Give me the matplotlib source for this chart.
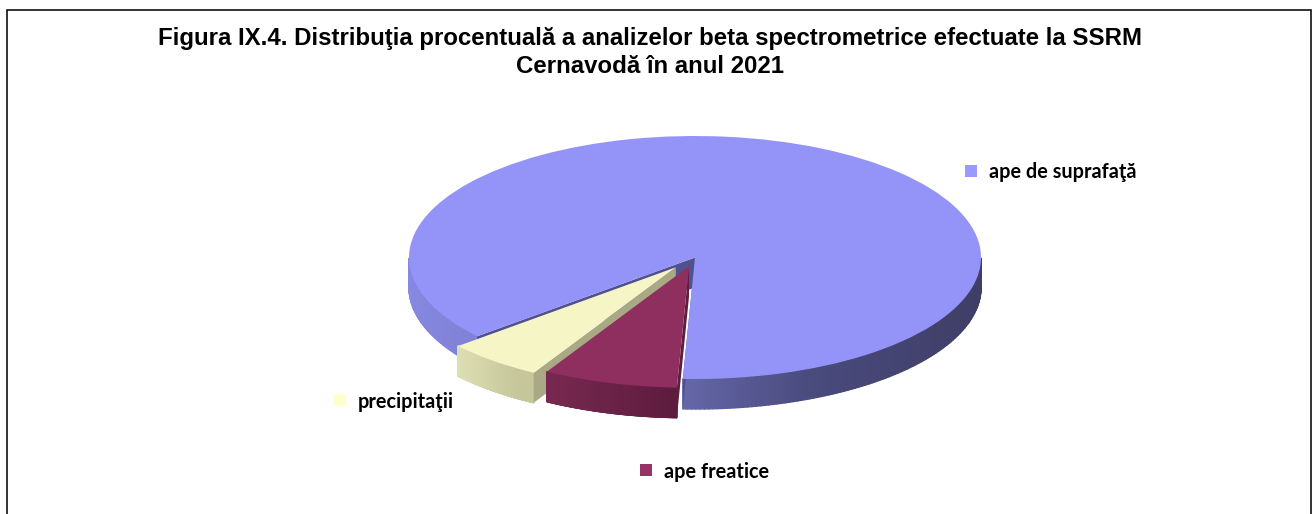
import numpy as np
import matplotlib
matplotlib.use("Agg")
import matplotlib.pyplot as plt
from matplotlib.patches import Rectangle, Polygon
from matplotlib.collections import PolyCollection
from matplotlib.colors import to_rgb

title = "Figura IX.4. Distribuţia procentuală a analizelor beta spectrometrice efectuate la SSRM\nCernavodă în anul 2021"
categories = ["ape de suprafaţă", "ape freatice", "precipitaţii"]
values = [86.9, 7.6, 5.5]
explode = [0.0, 0.075, 0.105]

W, H = 1312, 514
CX, CY, RX, RY, DEPTH = 695, 257.5, 286, 121.5, 30

top_colors = ["#9494f8", "#8e2f5f", "#f5f5c6"]
legend_colors = ["#9999ff", "#993366", "#ffffcc"]
wall_stops = [
    ([-1.0, -0.76, -0.04, 0.4, 1.0], ["#8688e2", "#7f81d4", "#6567a8", "#4a4b7e", "#3e3e66"]),
    ([-0.55, -0.04], ["#7c2a53", "#5c1c3d"]),
    ([-0.80, -0.55], ["#e3e3b9", "#c6c69b"]),
]
side_colors = ["#50518f", "#5d1e3f", "#a9a985"]

fig = plt.figure(figsize=(W / 100, H / 100), dpi=100, facecolor="white")
ax = fig.add_axes([0, 0, 1, 1])

wedges, _ = ax.pie(values, explode=explode, colors=top_colors, startangle=220.4,
                   counterclock=False, radius=1.0, center=(0, 0),
                   wedgeprops=dict(linewidth=0))
ax.set_aspect("auto")
ax.set_xlim(-CX / RX, (W - CX) / RX)
ax.set_ylim((CY - H) / RY, CY / RY)
ax.axis("off")

d = DEPTH / RY


def hexmix(xs, stops, cols):
    arr = np.array([to_rgb(c) for c in cols])
    return np.column_stack([np.interp(xs, stops, arr[:, i]) for i in range(3)])


def outer_wall(w, stops, cols, z):
    th = np.radians(np.linspace(w.theta1, w.theta2, 361))
    cx, cy = w.center
    polys, shades = [], []
    for a, b in zip(th[:-1], th[1:]):
        if np.sin((a + b) / 2) > 0:
            continue
        xa, ya = cx + np.cos(a), cy + np.sin(a)
        xb, yb = cx + np.cos(b), cy + np.sin(b)
        polys.append([(xa, ya), (xb, yb), (xb, yb - d), (xa, ya - d)])
        shades.append(np.cos((a + b) / 2))
    col = hexmix(np.array(shades), stops, cols)
    ax.add_collection(PolyCollection(polys, facecolors=col, edgecolors=col, linewidths=1.0, zorder=z))


def radial_side(w, angle, color, z):
    cx, cy = w.center
    a = np.radians(angle)
    ox, oy = cx + np.cos(a), cy + np.sin(a)
    ax.add_patch(Polygon([(cx, cy), (ox, oy), (ox, oy - d), (cx, cy - d)],
                         closed=True, facecolor=color, edgecolor="none", zorder=z))


# surface-water slice
outer_wall(wedges[0], *wall_stops[0], 1)
radial_side(wedges[0], wedges[0].theta2, side_colors[0], 1.5)
radial_side(wedges[0], wedges[0].theta1, side_colors[0], 1.5)
wedges[0].set_zorder(2)
# precipitation slice
outer_wall(wedges[2], *wall_stops[2], 3)
radial_side(wedges[2], wedges[2].theta2, side_colors[2], 3)
wedges[2].set_zorder(4)
# groundwater slice
outer_wall(wedges[1], *wall_stops[1], 5)
radial_side(wedges[1], wedges[1].theta2, side_colors[1], 5)
wedges[1].set_zorder(6)


def fx(px):
    return px / W


def fy(py):
    return 1 - py / H


fig.add_artist(Rectangle((fx(7), fy(530)), fx(1311.3 - 7), (530 - 9.5) / H,
                         transform=fig.transFigure, fill=False, edgecolor="#111111", linewidth=1.2))

fig.text(fx(650), fy(52.5), title, ha="center", va="center", family="Liberation Sans",
         fontweight="bold", fontsize=17.3, linespacing=1.3, color="#000000")

legend_pos = [(965, 170.5), (640, 469.5), (334, 399.5)]
for name, col, (lx, ly) in zip(categories, legend_colors, legend_pos):
    fig.add_artist(Rectangle((fx(lx), fy(ly + 6)), 12 / W, 12 / H, transform=fig.transFigure,
                             facecolor=col, edgecolor="none"))
    fig.text(fx(lx + 24), fy(ly), name, ha="left", va="center_baseline", family="Lato",
             fontweight="bold", fontsize=14.3, color="#000000")

fig.savefig("out.png", dpi=100)
